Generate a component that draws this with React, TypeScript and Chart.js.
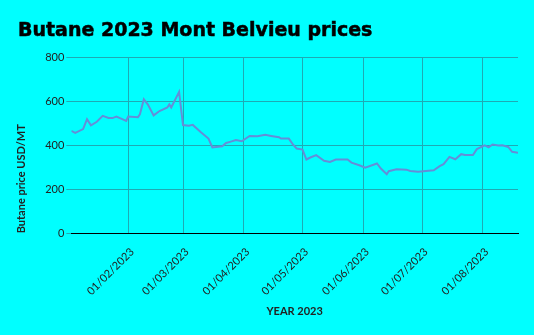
import React, { useEffect, useRef } from "react";
import { Chart, registerables } from "chart.js";

Chart.register(...registerables);

// Day of year 2023 (Jan 1 = 0) for each price sample
const dayNumbers = [2,4,8,10,12,15,18,21,23,25,28,30,31,36,37,39,41,44,47,51,52,53,57,59,62,64,68,72,74,79,81,83,86,89,93,97,101,104,108,109,113,115,117,120,122,124,127,131,134,137,143,145,149,152,158,160,163,164,168,173,175,179,187,190,192,195,198,201,203,207,209,213,215,217,220,222,225,227,230];
const butanePrices = [465,456,473,518,490,506,533,523,523,530,518,510,530,527,540,608,585,535,555,571,585,571,642,491,488,492,460,430,390,395,410,415,423,418,442,440,447,442,436,430,430,405,385,380,335,344,355,329,324,335,335,321,309,298,317,294,268,282,291,289,283,279,286,305,314,347,336,359,355,355,382,399,390,403,399,400,392,370,365];

const monthTickDays = [31, 59, 90, 120, 151, 181, 212];
const monthTickLabels = ["01/02/2023","01/03/2023","01/04/2023","01/05/2023","01/06/2023","01/07/2023","01/08/2023"];

const xMin = 2;
const xMax = 230;

const titleText = "Butane 2023 Mont Belvieu prices";
const xTitle = "YEAR 2023";
const yTitle = "Butane price USD/MT";

export default function App() {
  const ref = useRef<HTMLCanvasElement | null>(null);

  useEffect(() => {
    document.body.style.margin = "0";
    document.body.style.background = "#00ffff";
    const canvas = ref.current;
    if (!canvas) return;
    const gridColor = "#1eaab4";
    const textColor = "#222222";
    const chart = new Chart(canvas, {
      type: "line",
      data: {
        datasets: [
          {
            data: dayNumbers.map((d, i) => ({ x: d, y: butanePrices[i] })),
            borderColor: "rgb(100,142,216)",
            borderWidth: 2,
            pointRadius: 0,
            tension: 0,
            fill: false,
          },
        ],
      },
      options: {
        responsive: false,
        animation: false,
        layout: { padding: { top: 57, right: 16, bottom: 0, left: 0 } },
        plugins: {
          legend: { display: false },
          title: { display: false },
          tooltip: { enabled: false },
        },
        scales: {
          x: {
            type: "linear",
            min: xMin,
            max: xMax,
            afterBuildTicks: (scale: any) => {
              scale.ticks = monthTickDays.map((v) => ({ value: v }));
            },
            ticks: {
              autoSkip: false,
              minRotation: 45,
              maxRotation: 45,
              padding: 6,
              labelOffset: 4,
              color: textColor,
              font: { family: "Lato", size: 11 },
              callback: (value: any) => {
                const idx = monthTickDays.indexOf(Number(value));
                return idx >= 0 ? monthTickLabels[idx] : "";
              },
            },
            grid: { color: gridColor, drawTicks: true, tickLength: 6, tickColor: "rgba(0,0,0,0)" },
            border: { display: true, color: "#000000", width: 1 },
            title: {
              display: true,
              text: xTitle,
              color: textColor,
              font: { family: "Lato", size: 11, weight: "bold" },
              padding: { top: 1, bottom: 17 },
            },
          },
          y: {
            min: 0,
            max: 800,
            ticks: {
              stepSize: 200,
              padding: 2,
              color: textColor,
              font: { family: "Lato", size: 11 },
            },
            grid: { color: gridColor, drawTicks: true, tickLength: 5 },
            border: { display: false },
            title: {
              display: true,
              text: yTitle,
              align: "start",
              color: textColor,
              font: { family: "Lato", size: 11, weight: "bold" },
              padding: { top: 15, bottom: 15 },
            },
          },
        },
      },
    } as any);
    return () => chart.destroy();
  }, []);

  return (
    <div style={{ position: "relative", width: 534, height: 335, background: "#00ffff" }}>
      <div
        style={{
          position: "absolute",
          left: 18,
          top: 18,
          fontFamily: "'DejaVu Sans', sans-serif",
          fontWeight: "bold",
          fontSize: 19,
          lineHeight: "22px",
          color: "#000000",
          whiteSpace: "pre",
          WebkitTextStroke: "0.5px #000000",
        }}
      >
        {titleText}
      </div>
      <canvas ref={ref} width={534} height={335} style={{ display: "block" }} />
    </div>
  );
}
